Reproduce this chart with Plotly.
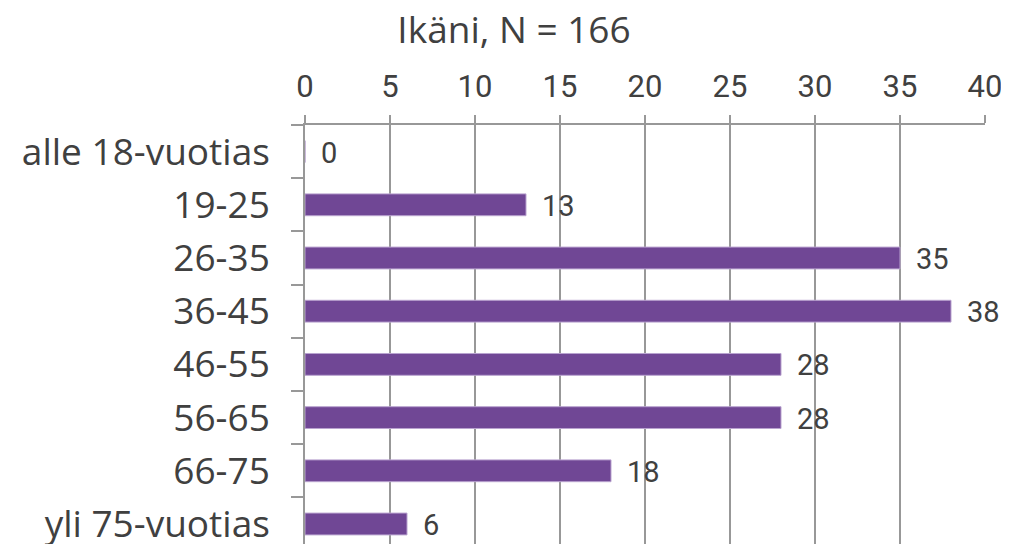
import plotly.graph_objects as go

categories = ["alle 18-vuotias", "19-25", "26-35", "36-45", "46-55", "56-65", "66-75", "yli 75-vuotias"]
values = [0, 13, 35, 38, 28, 28, 18, 6]
x_ticks = [0, 5, 10, 15, 20, 25, 30, 35, 40]
title_text = "Ikäni, N = 166"

BAR = "#704795"
TXT = "#404040"
GRID = "#989898"

# page body has an 8px margin: the figure is sized so that it fills the window
W, H = 1001, 536

fig = go.Figure()
fig.add_trace(go.Bar(
    x=values, y=categories, orientation="h",
    marker=dict(color=BAR, line=dict(color="#b9a3cf", width=1)),
    width=0.41, hoverinfo="x+y",
))

for c, v in zip(categories, values):
    fig.add_annotation(x=v, y=c, text=str(v), showarrow=False,
                       xanchor="left", yanchor="middle", xshift=14, yshift=-1,
                       font=dict(family="Roboto", size=29, color=TXT))

fig.update_layout(
    width=W, height=H,
    margin=dict(l=297, r=24, t=117, b=0, autoexpand=False),
    paper_bgcolor="white", plot_bgcolor="white",
    showlegend=False,
    title=dict(text=title_text, x=506/W, xref="container", xanchor="center",
               y=1 - 22/H, yref="container", yanchor="middle",
               font=dict(family="Open Sans", size=37, color=TXT)),
)
fig.update_xaxes(
    side="top", range=[0, 40], tickvals=x_ticks,
    showgrid=True, gridcolor=GRID, gridwidth=1.5,
    showline=True, linecolor=GRID, linewidth=1.5,
    ticks="outside", ticklen=8, tickcolor=GRID, tickwidth=1.5,
    ticklabelstandoff=6,
    zeroline=False,
    tickfont=dict(family="Roboto", size=31, color=TXT),
)
fig.update_yaxes(
    categoryorder="array", categoryarray=categories,
    range=[7.376, -0.5], showgrid=False,
    showline=True, linecolor=GRID, linewidth=1.5,
    ticks="outside", tickson="boundaries", ticklen=12, tickcolor=GRID, tickwidth=1.5,
    ticklabelstandoff=26,
    tickfont=dict(family="Open Sans", size=37, color=TXT),
)

fig.write_html("out.html")
